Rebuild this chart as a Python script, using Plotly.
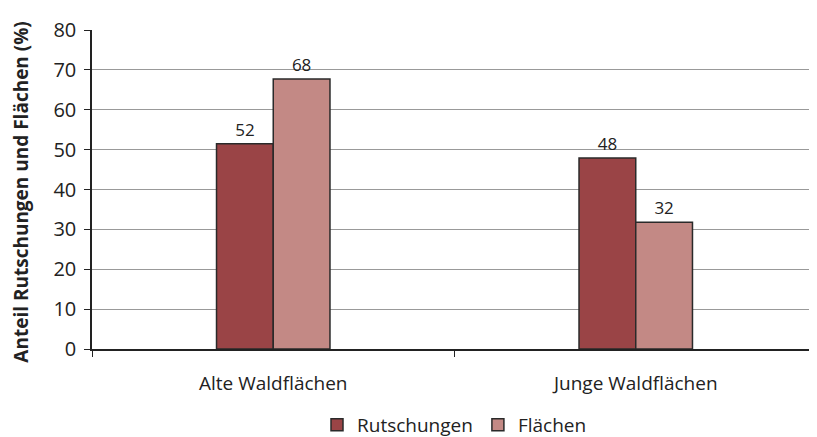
import plotly.graph_objects as go

categories = ["Alte Waldflächen", "Junge Waldflächen"]
rutschungen = [51.5, 47.9]
flaechen = [67.7, 31.8]
rutschungen_labels = ["52", "48"]
flaechen_labels = ["68", "32"]
y_ticks = [0, 10, 20, 30, 40, 50, 60, 70, 80]

font_family = "Open Sans, Lato, sans-serif"

fig = go.Figure()
fig.add_trace(go.Bar(
    name="Rutschungen", x=categories, y=rutschungen,
    text=rutschungen_labels, textposition="outside",
    marker=dict(color="#9A4446", line=dict(color="#2a2a2a", width=1.5)),
    textfont=dict(size=17, color="#222"), cliponaxis=False,
))
fig.add_trace(go.Bar(
    name="Flächen", x=categories, y=flaechen,
    text=flaechen_labels, textposition="outside",
    marker=dict(color="#C38985", line=dict(color="#2a2a2a", width=1.5)),
    textfont=dict(size=17, color="#222"), cliponaxis=False,
))

fig.update_layout(
    width=817, height=437,
    margin=dict(l=84, r=8, t=22, b=96),
    paper_bgcolor="white", plot_bgcolor="white",
    font=dict(family=font_family, size=19, color="#222"),
    barmode="group", bargap=0.687, bargroupgap=0,
    showlegend=True,
    legend=dict(orientation="h", x=0.5, xanchor="center",
                yref="container", y=0.046, yanchor="middle",
                font=dict(size=19), traceorder="normal"),
    xaxis=dict(
        showline=True, linecolor="#222", linewidth=1.5,
        ticks="outside", tickson="boundaries", ticklen=6, tickcolor="#222",
        tickfont=dict(size=19), showgrid=False, automargin=False,
        ticklabelstandoff=16,
    ),
    yaxis=dict(
        range=[0, 80], tickvals=y_ticks,
        showline=True, linecolor="#222", linewidth=1.5,
        ticks="outside", ticklen=6, tickcolor="#222",
        showgrid=True, gridcolor="#999", gridwidth=1,
        tickfont=dict(size=20), automargin=False,
        zeroline=False, ticklabelstandoff=4,
    ),
    annotations=[dict(
        text="<b>Anteil Rutschungen und Flächen (%)</b>",
        xref="paper", yref="paper", x=0, y=0.49,
        xanchor="center", yanchor="middle", xshift=-71,
        textangle=-90, showarrow=False, font=dict(size=19),
    )],
)

fig.write_html("out.html")
